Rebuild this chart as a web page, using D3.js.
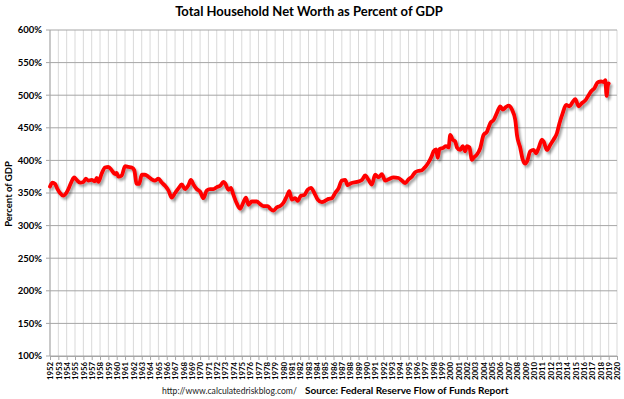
<!DOCTYPE html>
<html>
<head>
<meta charset="utf-8">
<script src="https://cdn.jsdelivr.net/npm/d3@7"></script>
<style>
    html, body { margin: 0; padding: 0; background: #fff; }
    svg { display: block; }
    text { font-family: Lato, "Open Sans", sans-serif; fill: #000; }
</style>
</head>
<body>
<svg id="chart" width="624" height="399"></svg>
<script>
// household net worth as percent of GDP (quarterly)
const years = [
    1952.0, 1952.3, 1952.6, 1952.9, 1953.2, 1953.6, 1953.9, 1954.2, 1954.6, 1954.9,
    1955.2, 1955.6, 1956.0, 1956.3, 1956.6, 1957.0, 1957.4, 1957.6, 1957.8, 1958.2,
    1958.6, 1959.0, 1959.4, 1959.8, 1960.0, 1960.2, 1960.6, 1961.0, 1961.4, 1961.8,
    1962.1, 1962.4, 1962.7, 1963.0, 1963.4, 1963.8, 1964.2, 1964.6, 1965.0, 1965.4,
    1965.8, 1966.2, 1966.6, 1967.0, 1967.4, 1967.8, 1968.2, 1968.6, 1968.9, 1969.2,
    1969.6, 1970.0, 1970.4, 1970.8, 1971.2, 1971.6, 1972.0, 1972.4, 1972.8, 1973.0,
    1973.4, 1973.7, 1974.0, 1974.4, 1974.8, 1975.2, 1975.5, 1975.8, 1976.2, 1976.8,
    1977.2, 1977.6, 1978.1, 1978.4, 1978.8, 1979.2, 1979.6, 1980.0, 1980.4, 1980.7,
    1981.0, 1981.4, 1981.7, 1982.1, 1982.5, 1982.9, 1983.3, 1983.7, 1984.1, 1984.6,
    1985.0, 1985.4, 1985.8, 1986.2, 1986.6, 1987.0, 1987.4, 1987.7, 1988.1, 1988.8,
    1989.4, 1989.8, 1990.2, 1990.6, 1991.0, 1991.4, 1991.8, 1992.2, 1992.6, 1993.2,
    1993.8, 1994.2, 1994.6, 1995.0, 1995.4, 1995.8, 1996.2, 1996.6, 1997.0, 1997.4,
    1997.8, 1998.0, 1998.3, 1998.5, 1998.7, 1999.1, 1999.5, 1999.8, 2000.0, 2000.3,
    2000.6, 2000.8, 2001.2, 2001.5, 2001.8, 2002.0, 2002.3, 2002.6, 2002.8, 2003.2,
    2003.6, 2004.0, 2004.4, 2004.8, 2005.2, 2005.6, 2006.0, 2006.3, 2006.7, 2007.0,
    2007.4, 2007.8, 2008.0, 2008.4, 2008.7, 2009.0, 2009.2, 2009.6, 2010.0, 2010.3,
    2010.6, 2011.0, 2011.2, 2011.6, 2012.0, 2012.4, 2012.8, 2013.1, 2013.5, 2013.9,
    2014.3, 2014.7, 2015.0, 2015.4, 2015.8, 2016.2, 2016.5, 2016.9, 2017.3, 2017.7,
    2018.1, 2018.4, 2018.6, 2018.75, 2018.9, 2019.0
];
const netWorthPct = [
    360, 366, 364, 356, 350, 346, 349, 356, 368, 374,
    370, 366, 367, 372, 369, 370, 368, 373, 367, 380,
    389, 390, 385, 379, 381, 375, 377, 391, 390, 389,
    385, 364, 364, 378, 378, 375, 371, 369, 372, 366,
    361, 354, 343, 350, 357, 363, 356, 362, 370, 363,
    356, 352, 342, 354, 356, 356, 359, 361, 367, 365,
    355, 358, 347, 334, 326, 336, 343, 332, 337, 337,
    333, 330, 330, 326, 323, 328, 330, 335, 345, 353,
    340, 342, 338, 346, 347, 355, 358, 350, 340, 336,
    338, 341, 342, 350, 357, 369, 370, 362, 365, 367,
    370, 377, 370, 363, 378, 374, 379, 369, 371, 374,
    373, 369, 365, 371, 375, 382, 384, 385, 390, 397,
    407, 414, 417, 404, 417, 419, 422, 420, 439, 432,
    429, 420, 416, 422, 414, 422, 420, 401, 404, 409,
    419, 439, 444, 457, 462, 473, 483, 478, 482, 484,
    478, 462, 439, 419, 401, 395, 398, 414, 416, 411,
    419, 432, 429, 416, 424, 432, 442, 457, 473, 485,
    483, 490, 494, 483, 488, 492, 498, 506, 511, 520,
    521, 520, 523, 499, 515, 518
];

// axis labels
const yTicks = [100, 150, 200, 250, 300, 350, 400, 450, 500, 550, 600];
const xTicks = d3.range(1952, 2021);

const titleText = "Total Household Net Worth as Percent of GDP";
const yLabel = "Percent of GDP";
const urlText = "http://www.calculatedriskblog.com/";
const sourceText = "Source: Federal Reserve Flow of Funds Report";

const margin = { left: 50, right: 7, top: 30, bottom: 43 };
const width = 624, height = 399;

const svg = d3.select('#chart');

const x = d3.scaleLinear()
    .domain([1952, 2020])
    .range([margin.left, width - margin.right]);
const y = d3.scaleLinear()
    .domain([100, 600])
    .range([height - margin.bottom, margin.top]);

// shadow under the red line
const defs = svg.append('defs');
defs.append('filter')
    .attr('id', 'shadow')
    .attr('x', '-5%').attr('y', '-10%')
    .attr('width', '110%').attr('height', '120%')
    .append('feDropShadow')
    .attr('dx', 2).attr('dy', 2.5)
    .attr('stdDeviation', 1.2)
    .attr('flood-color', '#000')
    .attr('flood-opacity', 0.35);

// vertical year gridlines
svg.append('g')
    .selectAll('line')
    .data(xTicks)
    .enter()
    .append('line')
    .attr('x1', d => x(d)).attr('x2', d => x(d))
    .attr('y1', y(600)).attr('y2', y(100))
    .attr('stroke', '#d9d9d9')
    .attr('stroke-width', 1);

// horizontal gridlines
svg.append('g')
    .selectAll('line')
    .data(yTicks)
    .enter()
    .append('line')
    .attr('x1', x(1952) - 4).attr('x2', x(2020))
    .attr('y1', d => y(d)).attr('y2', d => y(d))
    .attr('stroke', '#a6a6a6')
    .attr('stroke-width', 1);

// left axis line
svg.append('line')
    .attr('x1', x(1952)).attr('x2', x(1952))
    .attr('y1', y(600)).attr('y2', y(100))
    .attr('stroke', '#a6a6a6');

// bottom axis with year ticks
const xAxis = d3.axisBottom(x)
    .tickValues(xTicks)
    .tickFormat(d3.format('d'))
    .tickSize(4)
    .tickSizeOuter(0);

const gx = svg.append('g')
    .attr('transform', `translate(0,${y(100)})`)
    .call(xAxis);
gx.select('.domain').attr('stroke', '#a6a6a6');
gx.selectAll('.tick line').attr('stroke', '#a6a6a6');
gx.selectAll('.tick text')
    .attr('transform', 'rotate(-90)')
    .attr('x', -6)
    .attr('y', 0)
    .attr('dy', '0.35em')
    .style('text-anchor', 'end')
    .style('font-family', 'Lato, sans-serif')
    .style('font-size', '7.8px')
    .style('font-weight', 'bold')
    .style('fill', '#000');

// y tick labels
svg.append('g')
    .selectAll('text')
    .data(yTicks)
    .enter()
    .append('text')
    .attr('x', x(1952) - 8)
    .attr('y', d => y(d))
    .attr('dy', '0.35em')
    .attr('text-anchor', 'end')
    .style('font-size', '9.5px')
    .style('font-weight', 'bold')
    .text(d => d + '%');

// the series line
const line = d3.line()
    .x((d, i) => x(years[i]))
    .y(d => y(d))
    .curve(d3.curveMonotoneX);

svg.append('path')
    .datum(netWorthPct)
    .attr('d', line)
    .attr('fill', 'none')
    .attr('stroke', '#ff0000')
    .attr('stroke-width', 3.8)
    .attr('stroke-linejoin', 'round')
    .attr('stroke-linecap', 'round')
    .attr('filter', 'url(#shadow)');

// title
svg.append('text')
    .attr('x', 309)
    .attr('y', 16)
    .attr('text-anchor', 'middle')
    .style('font-size', '13px')
    .style('font-weight', 'bold')
    .text(titleText);

// y axis title
svg.append('text')
    .attr('transform', 'translate(12,194) rotate(-90)')
    .attr('text-anchor', 'middle')
    .style('font-size', '9.5px')
    .style('font-weight', 'bold')
    .text(yLabel);

// footer
svg.append('text')
    .attr('x', 162)
    .attr('y', 394)
    .style('font-size', '8.6px')
    .style('fill', '#222')
    .text(urlText);

svg.append('text')
    .attr('x', 305)
    .attr('y', 394)
    .style('font-size', '10px')
    .style('font-weight', 'bold')
    .text(sourceText);
</script>
</body>
</html>
